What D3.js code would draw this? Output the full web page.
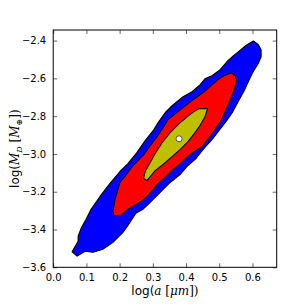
<!DOCTYPE html>
<html>
<head>
<meta charset="utf-8">
<script src="https://cdn.jsdelivr.net/npm/d3@7"></script>
<style>
  body { margin: 0; background: #fff; }
  text { font-family: "DejaVu Sans", sans-serif; }
</style>
</head>
<body>
<div id="app"></div>
<script>
// contour levels, in data units [log a, log M_D]
const outerContour = [
  [0.603, -2.402], [0.617, -2.420], [0.626, -2.449], [0.626, -2.486], [0.617, -2.523],
  [0.602, -2.565], [0.590, -2.607], [0.575, -2.665], [0.557, -2.723], [0.539, -2.782],
  [0.520, -2.829], [0.499, -2.877], [0.478, -2.924], [0.454, -2.971], [0.430, -3.024],
  [0.403, -3.066], [0.382, -3.109], [0.352, -3.151], [0.331, -3.188], [0.310, -3.225],
  [0.292, -3.256], [0.270, -3.293], [0.249, -3.314], [0.225, -3.378], [0.210, -3.415],
  [0.180, -3.468], [0.150, -3.504], [0.120, -3.520], [0.096, -3.515], [0.072, -3.541],
  [0.057, -3.518], [0.075, -3.462], [0.075, -3.436], [0.084, -3.394], [0.099, -3.346],
  [0.114, -3.293], [0.141, -3.225], [0.171, -3.156], [0.201, -3.093], [0.225, -3.051],
  [0.252, -2.993], [0.277, -2.929], [0.301, -2.877], [0.316, -2.834], [0.337, -2.782],
  [0.358, -2.745], [0.391, -2.697], [0.418, -2.671], [0.442, -2.634], [0.457, -2.602],
  [0.478, -2.586], [0.502, -2.555], [0.523, -2.512], [0.542, -2.481], [0.557, -2.460],
  [0.575, -2.433], [0.590, -2.415]
];

const middleContour = [
  [0.536, -2.570], [0.548, -2.586], [0.552, -2.613], [0.545, -2.660], [0.533, -2.713],
  [0.520, -2.766], [0.505, -2.824], [0.487, -2.871], [0.469, -2.913], [0.448, -2.961],
  [0.412, -3.003], [0.382, -3.051], [0.361, -3.082], [0.340, -3.119], [0.313, -3.161],
  [0.286, -3.220], [0.261, -3.256], [0.225, -3.293], [0.201, -3.328], [0.183, -3.325],
  [0.180, -3.304], [0.186, -3.241], [0.201, -3.151], [0.216, -3.119], [0.231, -3.082],
  [0.252, -3.040], [0.273, -3.003], [0.292, -2.956], [0.313, -2.908], [0.331, -2.861],
  [0.346, -2.818], [0.364, -2.792], [0.391, -2.755], [0.421, -2.713], [0.451, -2.676],
  [0.472, -2.644], [0.496, -2.607], [0.511, -2.589]
];

const innerContour = [
  [0.465, -2.760], [0.457, -2.803], [0.442, -2.850], [0.427, -2.887], [0.406, -2.935],
  [0.382, -2.977], [0.358, -3.014], [0.331, -3.056], [0.307, -3.088], [0.283, -3.140],
  [0.272, -3.130], [0.277, -3.093], [0.292, -3.045], [0.307, -2.998], [0.328, -2.940],
  [0.352, -2.887], [0.376, -2.845], [0.403, -2.803], [0.424, -2.776], [0.439, -2.760]
];

const bestFit = [0.379, -2.92];

const xTicks = [0.0, 0.1, 0.2, 0.3, 0.4, 0.5, 0.6];
const yTicks = [-3.6, -3.4, -3.2, -3.0, -2.8, -2.6, -2.4];

const levelColors = ["#0000ff", "#ff0000", "#bfbf00"];

const width = 307;
const height = 307;
const margin = { top: 30, right: 30.3, bottom: 39.7, left: 53.2 };

const x = d3.scaleLinear()
  .domain([0, 0.673])
  .range([margin.left, width - margin.right]);

const y = d3.scaleLinear()
  .domain([-3.6, -2.344])
  .range([height - margin.bottom, margin.top]);

const svg = d3.select("#app")
  .append("svg")
  .attr("width", width)
  .attr("height", height);

const line = d3.line()
  .x(d => x(d[0]))
  .y(d => y(d[1]))
  .curve(d3.curveLinearClosed);

svg.selectAll("path.level")
  .data([outerContour, middleContour, innerContour])
  .enter()
  .append("path")
  .attr("class", "level")
  .attr("d", line)
  .attr("fill", (d, i) => levelColors[i])
  .attr("stroke", "#000")
  .attr("stroke-width", 1.1)
  .attr("stroke-linejoin", "round");

svg.append("circle")
  .attr("cx", x(bestFit[0]))
  .attr("cy", y(bestFit[1]))
  .attr("r", 3)
  .attr("fill", "#fff")
  .attr("stroke", "#000")
  .attr("stroke-width", 0.6);

const fmt = d => d3.format(".1f")(d).replace("-", "\u2212");

// axes with inward ticks on all four sides
const axBottom = svg.append("g")
  .attr("transform", `translate(0, ${height - margin.bottom})`)
  .call(d3.axisBottom(x).tickValues(xTicks).tickFormat(fmt).tickSizeInner(-4).tickSizeOuter(0).tickPadding(7));
const axTop = svg.append("g")
  .attr("transform", `translate(0, ${margin.top})`)
  .call(d3.axisTop(x).tickValues(xTicks).tickFormat("").tickSizeInner(-4).tickSizeOuter(0));
const axLeft = svg.append("g")
  .attr("transform", `translate(${margin.left}, 0)`)
  .call(d3.axisLeft(y).tickValues(yTicks).tickFormat(fmt).tickSizeInner(-4).tickSizeOuter(0).tickPadding(7));
const axRight = svg.append("g")
  .attr("transform", `translate(${width - margin.right}, 0)`)
  .call(d3.axisRight(y).tickValues(yTicks).tickFormat("").tickSizeInner(-4).tickSizeOuter(0));

[axBottom, axTop, axLeft, axRight].forEach(g => {
  g.select(".domain").remove();
  g.selectAll("line").attr("stroke", "#000").attr("stroke-width", 0.6);
  g.selectAll("text").style("font-size", "10px").attr("fill", "#000");
});

svg.append("rect")
  .attr("x", margin.left)
  .attr("y", margin.top)
  .attr("width", width - margin.left - margin.right)
  .attr("height", height - margin.top - margin.bottom)
  .attr("fill", "none")
  .attr("stroke", "#000")
  .attr("stroke-width", 1);

// axis labels
const xl = svg.append("text")
  .attr("x", (margin.left + width - margin.right) / 2)
  .attr("y", 295)
  .attr("text-anchor", "middle")
  .style("font-size", "12px");
xl.append("tspan").text("log(");
xl.append("tspan").attr("font-family", "DejaVu Serif").attr("font-style", "italic").text("a");
xl.append("tspan").attr("font-family", "DejaVu Serif").text(" [");
xl.append("tspan").attr("font-family", "DejaVu Serif").attr("font-style", "italic").text("\u03bcm");
xl.append("tspan").attr("font-family", "DejaVu Serif").text("])");

const yl = svg.append("text")
  .attr("transform", `translate(19, ${(margin.top + height - margin.bottom) / 2}) rotate(-90)`)
  .attr("text-anchor", "middle")
  .style("font-size", "12px");
yl.append("tspan").text("log(");
yl.append("tspan").attr("font-family", "DejaVu Serif").attr("font-style", "italic").text("M");
yl.append("tspan").attr("font-family", "DejaVu Serif").attr("font-style", "italic").attr("dy", 3).style("font-size", "8px").text("D");
yl.append("tspan").attr("font-family", "DejaVu Serif").attr("dy", -3).text(" [");
yl.append("tspan").attr("font-family", "DejaVu Serif").attr("font-style", "italic").text("M");
yl.append("tspan").attr("font-family", "DejaVu Serif").attr("dy", 3).style("font-size", "8px").text("\u2295");
yl.append("tspan").attr("font-family", "DejaVu Serif").attr("dy", -3).text("])");
</script>
</body>
</html>
